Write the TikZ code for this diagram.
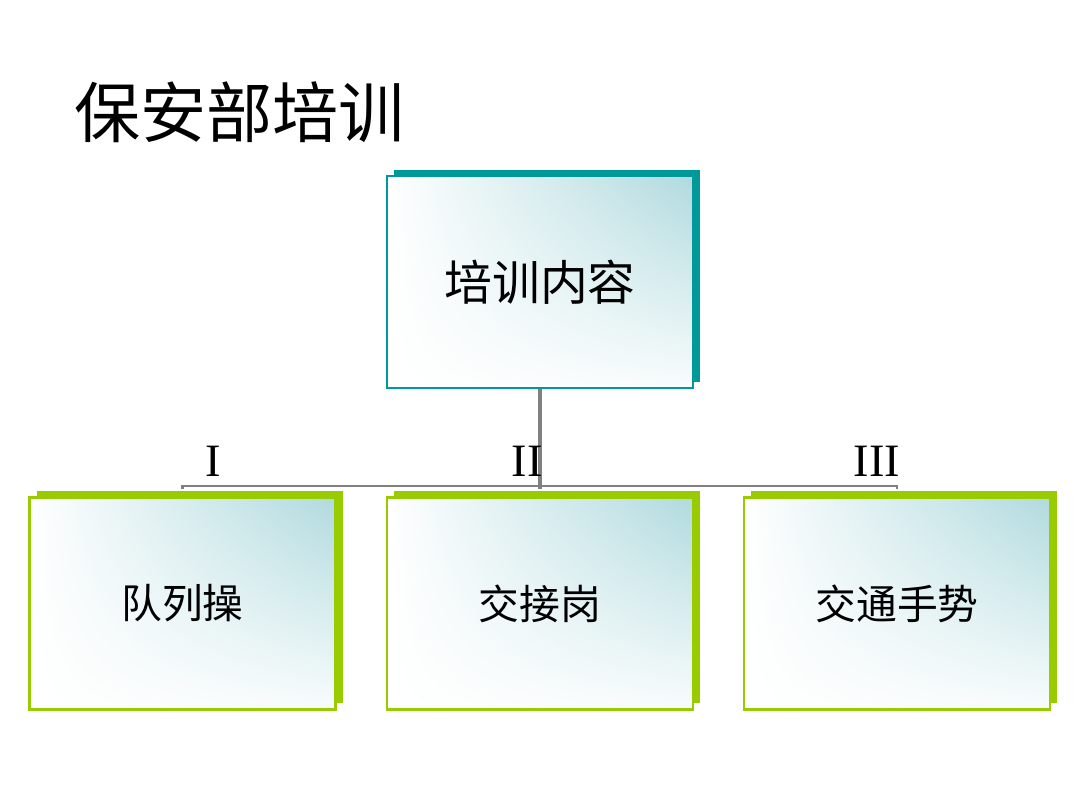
\documentclass[tikz,border=0pt]{standalone}
\usepackage{fontspec}
\setmainfont{Liberation Serif}
\newfontfamily\cjk{Noto Sans CJK SC}
\usetikzlibrary{positioning, shadows, shadings}
\definecolor{tealsh}{RGB}{0,153,153}
\definecolor{limesh}{RGB}{153,204,0}
\definecolor{wash}{RGB}{176,218,222}
\definecolor{linkgray}{RGB}{128,128,128}

\begin{document}
\begin{tikzpicture}[
  topbox/.style={rectangle,draw=tealsh,line width=1.4pt,
                 minimum width=7.65cm,minimum height=5.3cm,
                 upper right=wash,upper left=white,lower left=white,lower right=white!92!wash,
                 general shadow={fill=tealsh,shadow xshift=.175cm,shadow yshift=.15cm},
                 font=\cjk\fontsize{34}{40}\selectfont},
  leafbox/.style={rectangle,draw=limesh,line width=1.8pt,
                  minimum width=7.65cm,minimum height=5.3cm,
                  upper right=wash,upper left=white,lower left=white,lower right=white!92!wash,
                  general shadow={fill=limesh,shadow xshift=.175cm,shadow yshift=.175cm},
                  font=\cjk\fontsize{29}{34}\selectfont},
  trunk/.style={linkgray,line width=2.6pt},
  bus/.style={linkgray,line width=1.6pt},
  num/.style={font=\fontsize{33}{38}\selectfont,inner sep=0pt}
]
\fill[white] (0,0) rectangle (27,20.25);
\useasboundingbox (0,0) rectangle (27,20.25);

\node[anchor=west,inner sep=0pt,font=\cjk\fontsize{47}{52}\selectfont] (title) at (1.85,17.45) {保安部培训};

\node[topbox] (root) at (13.5,13.2) {培训内容};
\node[leafbox] (drill) at (4.5625,5.1625) {队列操};
\node[leafbox] (shift) at (13.5,5.1625) {交接岗};
\node[leafbox] (signal) at (22.425,5.1625) {交通手势};

\coordinate (fork) at (13.5,8.1);
\draw[trunk] (root.south) -- (fork) -- ([yshift=.175cm]shift.north);
\draw[bus] ([yshift=.175cm]drill.north) |- (fork) -| ([yshift=.175cm]signal.north);

\node[num] (nA) at (5.325,8.725) {I};
\node[num] (nB) at (13.175,8.725) {II};
\node[num] (nC) at (21.925,8.725) {III};
\end{tikzpicture}
\end{document}
